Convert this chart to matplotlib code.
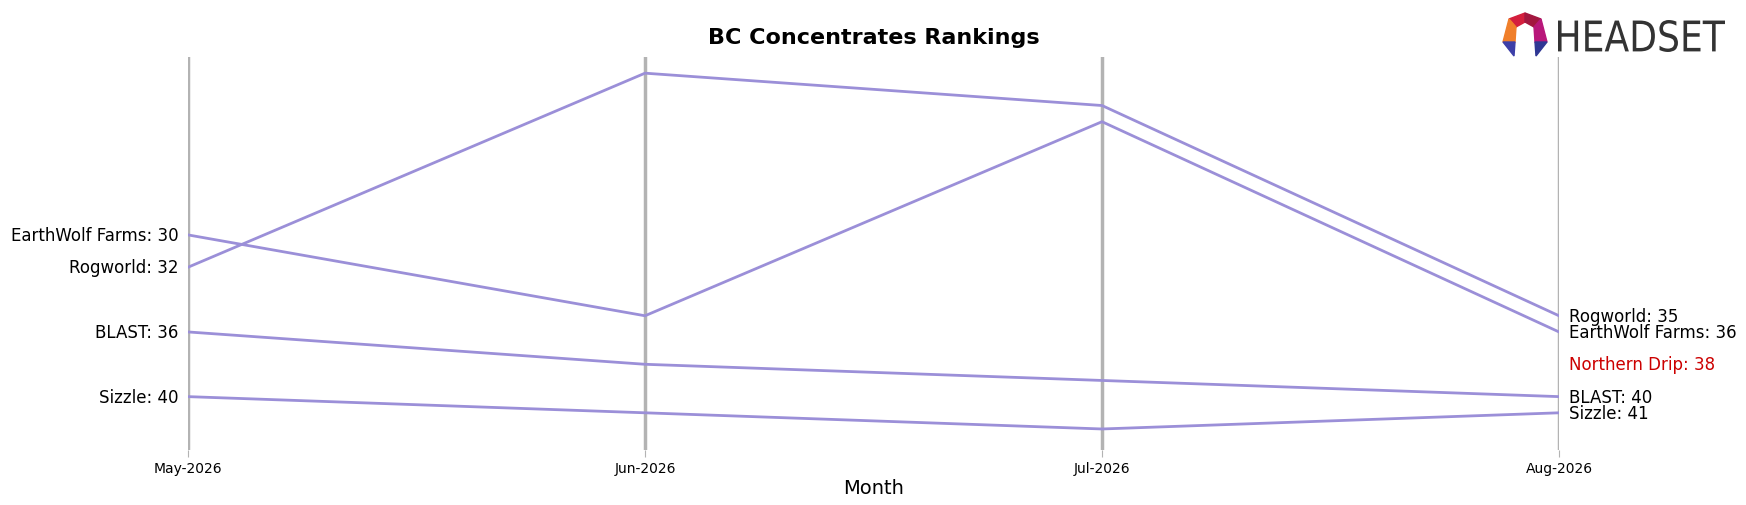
import matplotlib.pyplot as plt
from matplotlib.patches import Polygon, PathPatch
from matplotlib.textpath import TextPath
from matplotlib.font_manager import FontProperties
from matplotlib.transforms import Affine2D, IdentityTransform
import numpy as np

months = ["May-2026", "Jun-2026", "Jul-2026", "Aug-2026"]
brands = ["EarthWolf Farms", "Rogworld", "BLAST", "Sizzle"]
ranks = {
    "EarthWolf Farms": [30, 35, 23, 36],
    "Rogworld": [32, 20, 22, 35],
    "BLAST": [36, 38, 39, 40],
    "Sizzle": [40, 41, 42, 41],
}
# brand with only a last-month rank, shown as a highlighted label
highlight_brand = "Northern Drip"
highlight_rank = 38

LINE_COLOR = "#9b8fd8"
AXIS_COLOR = "#b3b3b3"
W, H = 1746, 506


def px(x, y):
    # pixel coords (y from top) -> figure fraction
    return (x / W, 1 - y / H)


def draw_logo(fig):
    # rough sketch of the Headset logo: open ring + wordmark
    T, UL, L, LB = (1525, 14), (1509, 20), (1503, 43), (1514, 57)
    UR, R, RB = (1541, 20), (1547, 43), (1536, 57)
    iT, iUL, iL, iUR, iR = (1525, 23), (1516, 28), (1515, 43), (1534, 28), (1535, 43)
    pieces = [
        ([T, UL, iUL, iT], "#d41f3d"),
        ([T, UR, iUR, iT], "#a3173f"),
        ([UL, L, iL, iUL], "#f07f2a"),
        ([UR, R, iR, iUR], "#b8177a"),
        ([L, iL, LB], "#3d3fa8"),
        ([R, iR, RB], "#2f3794"),
    ]
    for pts, col in pieces:
        fig.patches.append(Polygon([px(*p) for p in pts], closed=True, color=col,
                                   transform=fig.transFigure, zorder=5))

    tp = TextPath((0, 0), "HEADSET", size=44, prop=FontProperties(family="DejaVu Sans"))
    ext = tp.get_extents()
    sx = 167 / ext.width
    sy = 32 / ext.height
    tr = Affine2D().translate(-ext.x0, -ext.y0).scale(sx, sy).translate(1558, H - 53)
    fig.patches.append(PathPatch(tr.transform_path(tp), color="#333333", lw=0,
                                 transform=IdentityTransform()))


def main():
    fig = plt.figure(figsize=(W / 100, H / 100), dpi=100)
    ax = fig.add_axes([188 / W, 1 - 451 / H, (1559 - 188) / W, (451 - 58) / H])

    x = np.arange(len(months))
    for xi in x:
        ax.axvline(xi, color=AXIS_COLOR, lw=2.5, zorder=1)

    for brand in brands:
        ax.plot(x, ranks[brand], color=LINE_COLOR, lw=2, zorder=2)
        ax.annotate(f"{brand}: {ranks[brand][0]}", (0, ranks[brand][0]),
                    xytext=(-7, 0), textcoords="offset points",
                    ha="right", va="center", fontsize=12, annotation_clip=False)
        ax.annotate(f"{brand}: {ranks[brand][-1]}", (x[-1], ranks[brand][-1]),
                    xytext=(7, 0), textcoords="offset points",
                    ha="left", va="center", fontsize=12, annotation_clip=False)

    ax.annotate(f"{highlight_brand}: {highlight_rank}", (x[-1], highlight_rank),
                xytext=(7, 0), textcoords="offset points", color="#cc0000",
                ha="left", va="center", fontsize=12, annotation_clip=False)

    ax.set_xlim(0, 3)
    ax.set_ylim(43.3, 19)
    ax.set_xticks(x)
    ax.set_xticklabels(months, fontsize=10)
    ax.set_yticks([])
    ax.tick_params(axis="x", length=5, color=AXIS_COLOR, pad=3)
    for spine in ax.spines.values():
        spine.set_visible(False)
    ax.set_xlabel("Month", fontsize=14, labelpad=2)

    fig.text((188 + 1559) / 2 / W, 1 - 38 / H, "BC Concentrates Rankings",
             fontsize=16, fontweight="bold", ha="center", va="center")

    draw_logo(fig)
    fig.savefig("out.png", dpi=100)


if __name__ == "__main__":
    main()
